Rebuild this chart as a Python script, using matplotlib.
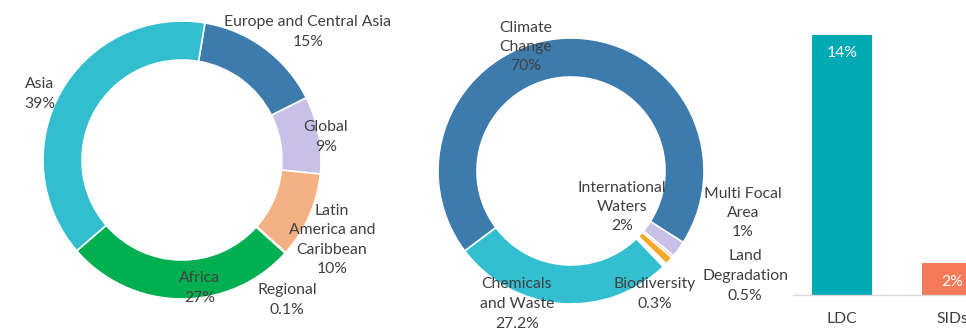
import matplotlib
matplotlib.use("Agg")
import matplotlib.pyplot as plt

# ---- data ----
region_names = ["Europe and Central Asia", "Global", "Latin\nAmerica and\nCaribbean", "Regional", "Africa", "Asia"]
region_values = [15, 9, 10, 0.1, 27, 39]
region_labels = ["15%", "9%", "10%", "0.1%", "27%", "39%"]
region_colors = ["#3E7BAD", "#C8C0E6", "#F4B183", "#A0A0A0", "#00AF50", "#32BECE"]

focal_names = ["Climate\nChange", "International\nWaters", "Biodiversity", "Multi Focal\nArea", "Land\nDegradation", "Chemicals\nand Waste"]
focal_values = [70, 2, 0.3, 1, 0.5, 27.2]
focal_labels = ["70%", "2%", "0.3%", "1%", "0.5%", "27.2%"]
focal_colors = ["#3E7BAD", "#C8C0E6", "#F4A0A0", "#F6A623", "#FFFFFF", "#33BFCF"]

bar_cats = ["LDC", "SIDs"]
bar_values = [14, 1.7]
bar_labels = ["14%", "2%"]
bar_colors = ["#00AAB4", "#F47A58"]

W, H = 966, 329
FONT = "Lato"
TC = "#404040"
FS = 11.3

fig = plt.figure(figsize=(W / 100, H / 100), dpi=100)
ax = fig.add_axes([0, 0, 1, 1])

def Y(y):
    return H - y

# donut 1
ax.pie(region_values, colors=region_colors, startangle=80.5, counterclock=False,
       center=(182, Y(160)), radius=139, frame=True,
       wedgeprops=dict(width=39, edgecolor="white", linewidth=1.2))
# donut 2
ax.pie(focal_values, colors=focal_colors, startangle=-143, counterclock=False,
       center=(571, Y(171)), radius=133, frame=True,
       wedgeprops=dict(width=39, edgecolor="white", linewidth=1.2))
ax.set_xlim(0, W)
ax.set_ylim(0, H)
ax.set_aspect("equal")
ax.axis("off")

def lab(x, y, name, pct):
    ax.text(x, Y(y), name + "\n" + pct, ha="center", va="center", fontsize=FS,
            color=TC, family=FONT, linespacing=1.5)

# region labels (pixel centres)
reg_pos = [(308, 32), (326, 137), (332, 240), (287, 300), (200, 288), (40, 94)]
for (x, y), n, p in zip(reg_pos, region_names, region_labels):
    lab(x, y, n, p)

foc_pos = [(526, 47), (622, 207), (655, 294), (743, 213), (745, 276), (517, 304)]
for (x, y), n, p in zip(foc_pos, focal_names, focal_labels):
    lab(x, y, n, p)

# bar chart
bx = fig.add_axes([792.5 / W, 34 / H, 220 / W, (15 / 14 * 260) / H])
bars = bx.bar(range(len(bar_cats)), bar_values, width=60 / 110, color=bar_colors)
bx.set_xlim(-0.45, 1.55)
bx.set_ylim(0, 15)
for s in ["top", "right", "left"]:
    bx.spines[s].set_visible(False)
bx.spines["bottom"].set_color("#D9D9D9")
bx.spines["bottom"].set_linewidth(1.0)
bx.set_yticks([])
bx.set_xticks(range(len(bar_cats)))
bx.set_xticklabels(bar_cats, fontsize=FS, color=TC, family=FONT)
bx.tick_params(axis="x", length=0, pad=12)
for i, (v, t) in enumerate(zip(bar_values, bar_labels)):
    bx.text(i, v - 0.6, t, ha="center", va="top", color="white", fontsize=FS, family=FONT)

fig.savefig("out.png", dpi=100)
